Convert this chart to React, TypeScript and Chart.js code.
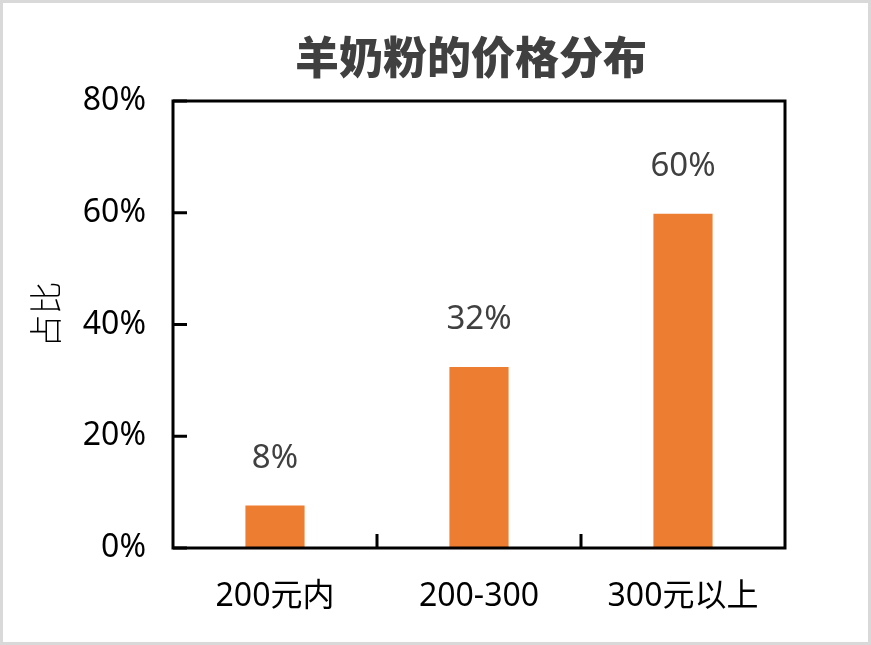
import { useEffect, useRef } from 'react';
import { Chart, registerables } from 'chart.js';
Chart.register(...registerables);

const TITLE = '羊奶粉的价格分布';
const Y_TITLE = '占比';
const CATEGORIES = ['200元内', '200-300', '300元以上'];
const SHARE = [7.6, 32.4, 59.8];
const SHARE_LABELS = ['8%', '32%', '60%'];
const Y_TICKS = [0, 20, 40, 60, 80];

const LATIN = '"Noto Sans", "Noto Sans CJK SC", sans-serif';

// frame, inward ticks, title, y title and value labels
const decorations = {
  id: 'decorations',
  afterDatasetsDraw(chart: Chart) {
    const { ctx, chartArea: a } = chart;
    const x = chart.scales.x;
    const y = chart.scales.y;
    ctx.save();
    ctx.strokeStyle = '#000';
    ctx.lineWidth = 3;
    ctx.strokeRect(a.left, a.top, a.right - a.left, a.bottom - a.top);

    ctx.beginPath();
    Y_TICKS.forEach(v => {
      const py = y.getPixelForValue(v);
      ctx.moveTo(a.left, py);
      ctx.lineTo(a.left + 14, py);
    });
    for (let i = 0; i < CATEGORIES.length - 1; i++) {
      const px = x.getPixelForValue(i + 0.5);
      ctx.moveTo(px, a.bottom);
      ctx.lineTo(px, a.bottom - 14);
    }
    ctx.stroke();

    ctx.fillStyle = '#404040';
    ctx.font = `33px ${LATIN}`;
    ctx.textAlign = 'center';
    ctx.textBaseline = 'middle';
    chart.getDatasetMeta(0).data.forEach((bar, i) => {
      ctx.fillText(SHARE_LABELS[i], bar.x, bar.y - 47);
    });

    ctx.font = '900 44px "Noto Sans CJK SC", sans-serif';
    ctx.fillText(TITLE, (a.left + a.right) / 2 - 8, 54);

    ctx.fillStyle = '#000';
    ctx.font = '300 33px "Noto Sans CJK SC", sans-serif';
    ctx.translate(42, (a.top + a.bottom) / 2 - 10);
    ctx.rotate(-Math.PI / 2);
    ctx.fillText(Y_TITLE, 0, 0);
    ctx.restore();
  },
};

export default function App() {
  const canvasRef = useRef<HTMLCanvasElement>(null);
  const chartRef = useRef<Chart | null>(null);

  useEffect(() => {
    if (!canvasRef.current) return;
    chartRef.current?.destroy();

    chartRef.current = new Chart(canvasRef.current, {
      type: 'bar',
      data: {
        labels: CATEGORIES,
        datasets: [{
          data: SHARE,
          backgroundColor: '#ED7D31',
          barPercentage: 0.29,
          categoryPercentage: 1,
        }],
      },
      options: {
        animation: false,
        responsive: true,
        maintainAspectRatio: false,
        layout: { padding: { top: 98, right: 83, left: 0, bottom: 0 } },
        plugins: { legend: { display: false }, tooltip: { enabled: false }, title: { display: false } },
        scales: {
          x: {
            grid: { display: false },
            border: { display: false },
            ticks: { color: '#000', font: { family: LATIN, size: 32 }, padding: 22 },
            afterFit: (s) => { s.height = 94; },
          },
          y: {
            min: 0,
            max: 80,
            grid: { display: false },
            border: { display: false },
            ticks: {
              stepSize: 20,
              color: '#000',
              font: { family: LATIN, size: 32 },
              padding: 19,
              callback: (v) => `${v}%`,
            },
            afterFit: (s) => { s.width = 170; },
          },
        },
      },
      plugins: [decorations],
    });
    return () => { chartRef.current?.destroy(); };
  }, []);

  return (
    <div style={{
      position: 'fixed', left: 0, top: 0, width: 871, height: 645,
      boxSizing: 'border-box', border: '3px solid #d9d9d9', background: '#fff',
    }}>
      <div style={{ position: 'relative', width: '100%', height: '100%' }}>
        <canvas ref={canvasRef} />
      </div>
    </div>
  );
}
